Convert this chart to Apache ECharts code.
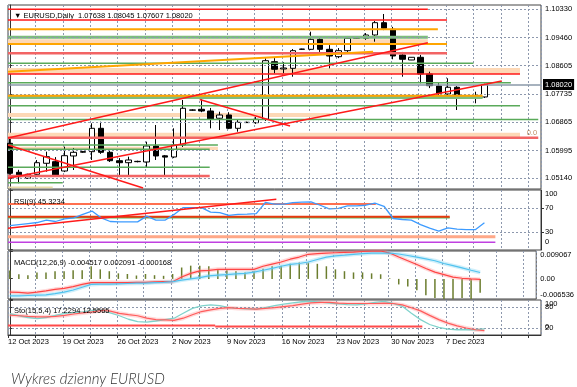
<!DOCTYPE html>
<html><head><meta charset="utf-8">
<script src="https://cdn.jsdelivr.net/npm/echarts@6/dist/echarts.min.js"></script>
<style>html,body{margin:0;padding:0;background:#fff}#c{width:577px;height:387px}</style>
</head><body><div id="c"></div>
<script>
// ---- data ----
const dates = ['12 Oct 2023','13 Oct 2023','15 Oct 2023','16 Oct 2023','17 Oct 2023','18 Oct 2023','19 Oct 2023','20 Oct 2023','22 Oct 2023','23 Oct 2023','24 Oct 2023','25 Oct 2023','26 Oct 2023','27 Oct 2023','29 Oct 2023','30 Oct 2023','31 Oct 2023','1 Nov 2023','2 Nov 2023','3 Nov 2023','5 Nov 2023','6 Nov 2023','7 Nov 2023','8 Nov 2023','9 Nov 2023','10 Nov 2023','12 Nov 2023','13 Nov 2023','14 Nov 2023','15 Nov 2023','16 Nov 2023','17 Nov 2023','19 Nov 2023','20 Nov 2023','21 Nov 2023','22 Nov 2023','23 Nov 2023','24 Nov 2023','26 Nov 2023','27 Nov 2023','28 Nov 2023','29 Nov 2023','30 Nov 2023','1 Dec 2023','3 Dec 2023','4 Dec 2023','5 Dec 2023','6 Dec 2023','7 Dec 2023','8 Dec 2023','10 Dec 2023','11 Dec 2023','12 Dec 2023'];
const open  = [1.06215,1.05324,1.05140,1.05263,1.05601,1.05650,1.05364,1.05825,1.05940,1.05957,1.06675,1.05938,1.05680,1.05619,1.05650,1.05641,1.06132,1.05830,1.05794,1.06163,1.07230,1.07259,1.07207,1.06983,1.07084,1.06675,1.06850,1.06847,1.06952,1.08721,1.08497,1.08518,1.09100,1.09101,1.09408,1.09101,1.08875,1.09059,1.09440,1.09439,1.09541,1.09919,1.09716,1.08927,1.08773,1.08856,1.08343,1.07975,1.07729,1.07935,1.07600,1.07667,1.07638];
const close = [1.05294,1.05189,1.05263,1.05619,1.05803,1.05241,1.05834,1.05938,1.05960,1.06675,1.05938,1.05680,1.05619,1.05702,1.05660,1.06132,1.05825,1.05790,1.06163,1.07290,1.07240,1.07207,1.06961,1.07084,1.06675,1.06860,1.06860,1.06952,1.08752,1.08488,1.08528,1.09059,1.09110,1.09408,1.09101,1.08896,1.09059,1.09439,1.09450,1.09541,1.09919,1.09746,1.08896,1.08795,1.08856,1.08343,1.07984,1.07750,1.07935,1.07646,1.07610,1.07606,1.08020];
const low   = [1.05250,1.04987,1.05120,1.05210,1.05343,1.05220,1.05330,1.05395,1.05920,1.05702,1.05890,1.05640,1.05189,1.05189,1.05630,1.05478,1.05702,1.05189,1.05760,1.06100,1.07210,1.07170,1.06675,1.06623,1.06650,1.06571,1.06840,1.06810,1.06900,1.08365,1.08370,1.08260,1.09080,1.09080,1.09020,1.08518,1.08830,1.09020,1.09420,1.09390,1.09335,1.09690,1.08795,1.08260,1.08770,1.08058,1.07910,1.07700,1.07670,1.07237,1.07580,1.07443,1.07607];
const high  = [1.06400,1.05400,1.05280,1.05702,1.05957,1.05790,1.06111,1.06071,1.05980,1.06829,1.06878,1.06010,1.05760,1.05803,1.05680,1.06264,1.06777,1.05856,1.06675,1.07545,1.07260,1.07566,1.07300,1.07185,1.07170,1.06930,1.06880,1.07020,1.08825,1.08830,1.08710,1.09110,1.09120,1.09642,1.09510,1.09230,1.09140,1.09510,1.09460,1.09600,1.09970,1.10186,1.09790,1.09020,1.08860,1.08930,1.08414,1.08060,1.08211,1.07970,1.07620,1.07799,1.08045];
const priceTicks = [1.05140,1.05995,1.06865,1.07735,1.08605,1.09460,1.10330];

const rsi = [40.7,42.4,44.1,45.8,49.7,47.5,52.0,53.7,59.3,64.9,53.7,47.5,46.9,46.9,46.9,56.4,49.7,49.7,59.3,70.7,70.7,70.7,63.2,62.2,57.6,59.3,59.8,60.5,79.2,76.3,76.3,78.8,79.7,80.2,74.6,68.6,69.5,73.4,73.7,74.6,78.0,72.9,52.5,50.8,49.7,42.4,36.4,31.4,36.8,34.7,33.9,33.9,45.3234];
const rsiEdgeTicks = [0,100];
const rsiLevelTicks = [30,70];

const macdHist = [0.0027,0.0015,0.0012,0.0021,0.0021,0.0025,0.0025,0.0028,0.0028,0.0041,0.0031,0.0025,0.0018,0.0016,0.0011,0.0016,0.0012,0.0010,0.0016,0.0037,0.0043,0.0043,0.0041,0.0031,0.0028,0.0025,0.0021,0.0025,0.0033,0.0041,0.0043,0.0049,0.0053,0.0053,0.0049,0.0041,0.0031,0.0025,0.0021,0.0021,0.0018,0.0015,0.0002,-0.0018,-0.0025,-0.0037,-0.0053,-0.0062,-0.0065,-0.006536,-0.0062,-0.0065,-0.004517];
const macdBlue = [-0.0055,-0.0055,-0.0054,-0.0053,-0.0052,-0.0048,-0.0043,-0.0036,-0.0027,-0.0018,-0.0017,-0.0017,-0.0016,-0.0015,-0.0014,-0.0014,-0.0012,-0.0011,-0.0009,-0.0004,0.0000,0.0004,0.0010,0.0012,0.0014,0.0016,0.0018,0.0022,0.0028,0.0034,0.0041,0.0047,0.0050,0.0055,0.0063,0.0071,0.0075,0.0077,0.0080,0.0082,0.0084,0.0084,0.0084,0.0081,0.0076,0.0071,0.0065,0.0059,0.0050,0.0043,0.0036,0.0028,0.002091];
const macdRed = [-0.0043,-0.0044,-0.0046,-0.0043,-0.0039,-0.0034,-0.0031,-0.0025,-0.0018,-0.0012,-0.0012,-0.0012,-0.0012,-0.0012,-0.0011,-0.0011,-0.0010,-0.0009,-0.0009,0.0006,0.0018,0.0026,0.0028,0.0031,0.0031,0.0031,0.0031,0.0031,0.0041,0.0048,0.0055,0.0064,0.0071,0.0080,0.0082,0.0084,0.0085,0.0086,0.0087,0.0089,0.0090,0.009067,0.0084,0.0071,0.0059,0.0047,0.0034,0.0022,0.0014,0.0006,0.0002,0.0000,-0.000168];
const macdTicks = [-0.006536, 0, 0.009067];

const stoMain = [61,55,50,47,50,56,62,64,66,70,71,63,55,45,38,37,40,44,48,62,76,83,86,84,78,76,75,74,78,84,88,92,95,96,94,91,89,87,86,89,93,96,90,82,62,44,30,22,17,15,15,15,17.2294];
const stoSignal = [57,55,53,52,52,53,56,60,63,66,70,68,62,58,55,48,44,43,42,48,58,67,72,76,78,76,75,74,76,78,81,84,88,92,93,93,91,90,90,90,90,91,90,86,78,69,56,44,34,26,20,15,12.5565];
const stoEdgeTicks = [0,100];
const stoLevelTicks = [20,80];

// drawn objects: [price, fromBar, toBar]
const redLines = [[1.10330,-0.2,45.8],[1.10001,-0.2,47.9],[1.08343,-0.2,55.9]];
const salmonLines = [[1.08979,-0.2,47.9],[1.06387,-0.2,57.9],[1.05211,-0.2,21.9]];
const orangeLines = [[1.09716,-0.2,46.9],[1.09264,-0.2,47.9],[1.07677,-0.2,51.8]];
const greenThick = [[1.09470,-0.2,45.8],[1.07623,-0.2,51.8]];
const greenThin = [[1.08672,-0.2,50.8],[1.08077,-0.2,54.9],[1.07370,-0.2,55.9],[1.06946,-0.2,57.9],[1.06163,-0.2,22.8],[1.06031,-0.2,21.9],[1.05478,-0.2,21.9],[1.05005,-0.2,5.8]];
// bands: [priceTop, priceBottom, fromBar, toBar]
const peachBands = [[1.09409,1.09286,-0.2,45.8],[1.08527,1.08343,-0.2,55.9],[1.07145,1.07022,-0.2,35.1],[1.06540,1.06408,-0.2,55.9],[1.06111,1.06009,-0.2,22.8]];
const khakiBands = [[1.04885,1.04835,-0.2,4.7]];
// trend lines: [bar0, price0, bar1, price1]
const redTrends = [[-0.2,1.06375,45.8,1.09304],[-0.2,1.05140,53.9,1.08128],[-0.2,1.06163,14.6,1.04842],[20.8,1.07560,30.7,1.06746]];
const orangeTrends = [[-0.2,1.08414,39.8,1.09028]];
const fibLabels = [[57.2,1.06525,'0.0']];
// RSI window objects
const rsiTopLines = [[76.7,-0.2,40.1]];
const rsiRedLines = [[55.5,-0.2,48.2]];
const rsiGreenLines = [[53.8,-0.2,48.2]];
const rsiSalmonLines = [[22.2,-0.2,53.2]];
const rsiPurpleLines = [[12.8,-0.2,53.2]];
const rsiTrends = [[-0.2,36.2,29.2,84.5]];
// Stochastic window objects
const stoRedLines = [[27.4,-0.2,22.5],[24.4,22.5,45.2]];

// ---- chart ----
const FONT = 'Liberation Sans, Arial, sans-serif';
const chart = echarts.init(document.getElementById('c'), null, {renderer:'canvas'});
const gridBoxes = [
  {left:8, right:36, top:5, height:184},
  {left:8, right:36, top:190, height:60},
  {left:8, right:36, top:251, height:48},
  {left:8, right:36, top:300, height:35}
];
const grids = gridBoxes.map(g => Object.assign({}, g, {show:true, borderColor:'#444', borderWidth:1, backgroundColor:'#fff'}));

const xBase = {type:'value', min:-0.2, max:58.2, interval:3,
  axisLine:{show:false}, axisTick:{show:false}, axisLabel:{show:false},
  splitLine:{show:true, lineStyle:{color:'#8d98ad', type:[2,2], width:1}}};
const xAxes = [0,1,2,3].map(i => Object.assign({}, xBase, {gridIndex:i}));
xAxes.push({type:'value', gridIndex:3, min:-0.2, max:58.2, interval:3, position:'bottom',
  axisLine:{show:true, lineStyle:{color:'#333', width:1}},
  axisTick:{show:true, length:3, lineStyle:{color:'#333'}},
  splitLine:{show:false},
  axisLabel:{show:true, showMaxLabel:false, align:'left', margin:3, fontSize:7.5, color:'#000', fontFamily:FONT,
    formatter: v => { const i = Math.round(v); return (i % 6 === 0 && i < dates.length) ? dates[i] : ''; }}});

// A zero label at the bottom edge of a window is lifted by half a text height so that it stays inside the window.
function yAx(grid, min, max, ticks, fmt, edgeAlign){
  const lift = (max - min) * 4.5 / gridBoxes[grid].height;
  const tickVals = ticks.map(v => v === 0 ? (max - min) * 0.005 : v);
  const labelVals = ticks.map(v => v !== 0 ? v : (v === min ? min + lift : (max - min) * 0.005));
  return {type:'value', gridIndex:grid, position:'right', min, max, scale:true,
    axisLine:{show:true, lineStyle:{color:'#333'}},
    axisTick:{show:true, length:3, customValues:tickVals, lineStyle:{color:'#333'}},
    splitLine:{show:false},
    axisLabel:{show:true, customValues:labelVals, margin:4, fontSize:7.5, color:'#000', fontFamily:FONT,
      formatter:fmt,
      verticalAlignMaxLabel: edgeAlign ? 'top' : 'middle',
      verticalAlignMinLabel: edgeAlign ? 'bottom' : 'middle'}};
}
const intFmt = v => String(Math.round(v));
const edgeFmt = v => v < 50 ? '0' : '100';
const yAxes = [
  yAx(0, 1.04811, 1.10462, priceTicks, v => v.toFixed(5), false),
  yAx(1, 0, 100, rsiEdgeTicks, edgeFmt, true),
  yAx(2, -0.006536, 0.009067, macdTicks, v => Math.abs(v) < 0.0005 ? '0.00' : v.toFixed(6), true),
  yAx(3, 0, 100, stoEdgeTicks, edgeFmt, true),
  yAx(3, 0, 100, stoLevelTicks, intFmt, false),
  yAx(1, 0, 100, rsiLevelTicks, intFmt, false)
];

const series = [];
function hlines(arr, ax, color, width, z){
  arr.forEach(([p,x0,x1]) => series.push({type:'line', xAxisIndex:ax, yAxisIndex:ax, data:[[x0,p],[x1,p]],
    symbol:'none', silent:true, z, lineStyle:{color, width}}));
}
function tlines(arr, ax, color, width, z){
  arr.forEach(([x0,p0,x1,p1]) => series.push({type:'line', xAxisIndex:ax, yAxisIndex:ax, data:[[x0,p0],[x1,p1]],
    symbol:'none', silent:true, z, lineStyle:{color, width}}));
}
const dotted = {color:'#8d98ad', type:[2,2], width:1};
const lastClose = close[close.length-1];

// bands (background)
series.push({type:'line', xAxisIndex:0, yAxisIndex:0, data:[], z:1, silent:true,
  markArea:{silent:true, data:
    peachBands.map(([a,b,x0,x1]) => [{xAxis:x0, yAxis:a, itemStyle:{color:'#fdd8b6'}},{xAxis:x1, yAxis:b}])
    .concat(khakiBands.map(([a,b,x0,x1]) => [{xAxis:x0, yAxis:a, itemStyle:{color:'#e9dca8'}},{xAxis:x1, yAxis:b}]))}});

// candles
series.push({type:'candlestick', xAxisIndex:0, yAxisIndex:0, z:3, barWidth:6,
  encode:{x:0, y:[1,2,3,4]},
  data: dates.map((d,i) => [i, open[i], close[i], low[i], high[i]]),
  itemStyle:{color:'#ffffff', color0:'#000000', borderColor:'#000', borderColor0:'#000', borderWidth:1},
  markLine:{silent:true, symbol:['none','none'], animation:false, precision:5,
    data: priceTicks.map(v => ({yAxis:v, lineStyle:dotted, label:{show:false}}))
      .concat([{yAxis:lastClose, lineStyle:{color:'#8a98a8', width:1.5, type:'solid'},
        label:{show:true, position:'end', distance:2, formatter: () => lastClose.toFixed(5),
          backgroundColor:'#000', color:'#fff', padding:[2,2,1,2], fontSize:7.5, fontFamily:FONT}}])}});

hlines(greenThick, 0, '#7dbd7d', 3, 4);
hlines(greenThin, 0, '#5aaa5a', 1.5, 4);
hlines(orangeLines, 0, '#ffa500', 2, 5);
hlines(salmonLines, 0, '#f26464', 2.5, 5);
hlines(redLines, 0, '#ff1a1a', 1.5, 6);
tlines(orangeTrends, 0, '#ffa500', 2, 6);
tlines(redTrends, 0, '#ff1a1a', 1.5, 7);
series.push({type:'scatter', xAxisIndex:0, yAxisIndex:0, z:8, silent:true, symbolSize:0,
  data: fibLabels.map(([x,p,t]) => ({value:[x,p], name:t})),
  label:{show:true, position:'inside', formatter: p => p.name, color:'#b0703a', fontSize:7.5, fontFamily:FONT}});

// RSI
hlines(rsiTopLines, 1, '#ff7050', 2, 3);
hlines(rsiGreenLines, 1, '#5cb85c', 1.5, 3);
hlines(rsiRedLines, 1, '#e83a10', 2, 3);
hlines(rsiSalmonLines, 1, '#ffa888', 3, 3);
hlines(rsiPurpleLines, 1, '#c040e0', 1.5, 3);
tlines(rsiTrends, 1, '#ff1a1a', 1.5, 5);
series.push({type:'line', xAxisIndex:1, yAxisIndex:1, z:4, symbol:'none', silent:true,
  data: rsi.map((v,i) => [i,v]), lineStyle:{color:'#3d9bff', width:1.3},
  markLine:{silent:true, symbol:['none','none'], data:rsiLevelTicks.map(v => ({yAxis:v, lineStyle:dotted, label:{show:false}}))}});

// MACD
series.push({type:'bar', xAxisIndex:2, yAxisIndex:2, z:3, barWidth:1.5, silent:true,
  data: macdHist.map((v,i) => [i,v]), itemStyle:{color:'#6b7d2e'}});
series.push({type:'line', xAxisIndex:2, yAxisIndex:2, z:4, symbol:'none', silent:true,
  data: macdRed.map((v,i) => [i,v]), lineStyle:{color:'rgba(255,140,140,0.35)', width:4}});
series.push({type:'line', xAxisIndex:2, yAxisIndex:2, z:4, symbol:'none', silent:true,
  data: macdBlue.map((v,i) => [i,v]), lineStyle:{color:'rgba(120,210,240,0.35)', width:4}});
series.push({type:'line', xAxisIndex:2, yAxisIndex:2, z:5, symbol:'none', silent:true,
  data: macdRed.map((v,i) => [i,v]), lineStyle:{color:'#ff4545', width:1.2}});
series.push({type:'line', xAxisIndex:2, yAxisIndex:2, z:5, symbol:'none', silent:true,
  data: macdBlue.map((v,i) => [i,v]), lineStyle:{color:'#52c3ef', width:1.2}});

// Stochastic
hlines(stoRedLines, 3, '#ff4a4a', 2, 3);
series.push({type:'line', xAxisIndex:3, yAxisIndex:3, z:4, symbol:'none', silent:true,
  data: stoSignal.map((v,i) => [i,v]), lineStyle:{color:'rgba(255,150,150,0.35)', width:4}});
series.push({type:'line', xAxisIndex:3, yAxisIndex:3, z:5, symbol:'none', silent:true,
  data: stoMain.map((v,i) => [i,v]), lineStyle:{color:'#7fd3cc', width:1.3},
  markLine:{silent:true, symbol:['none','none'], data:stoLevelTicks.map(v => ({yAxis:v, lineStyle:dotted, label:{show:false}}))}});
series.push({type:'line', xAxisIndex:3, yAxisIndex:3, z:5, symbol:'none', silent:true,
  data: stoSignal.map((v,i) => [i,v]), lineStyle:{color:'#ff5c5c', width:1.2}});

const small = {fontSize:7.5, fontWeight:'normal', color:'#000', fontFamily:FONT};
chart.setOption({
  animation:false,
  title:[
    {text:'\u25BC EURUSD,Daily  1.07638 1.08045 1.07607 1.08020', left:9, top:7, textStyle:small},
    {text:'RSI(9) 45.3234', left:9, top:193, textStyle:small},
    {text:'MACD(12,26,9) -0.004517 0.002091 -0.000168', left:9, top:254, textStyle:small},
    {text:'Sto(15,5,4) 17.2294 12.5565', left:9, top:302, textStyle:small},
    {text:'Wykres dzienny EURUSD', left:6, top:367, textStyle:{fontSize:15, fontStyle:'italic', fontWeight:300, color:'#333', fontFamily:'Lato, Open Sans, sans-serif'}}
  ],
  grid: grids, xAxis: xAxes, yAxis: yAxes, series
});
</script></body></html>
